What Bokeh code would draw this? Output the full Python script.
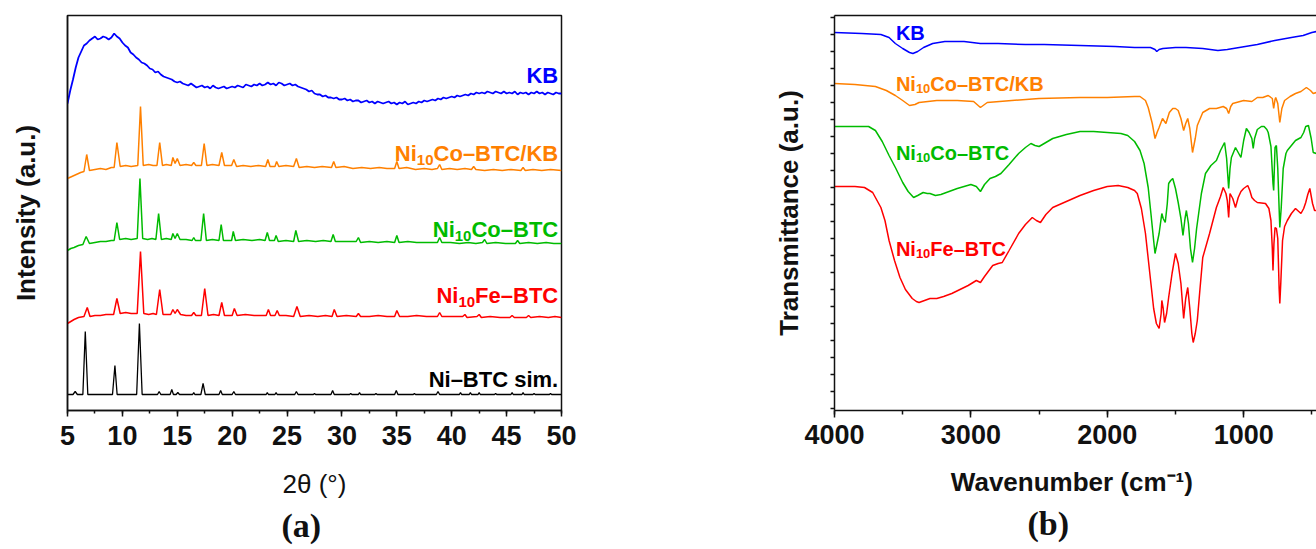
from bokeh.plotting import figure
from bokeh.layouts import row
from bokeh.models import (Range1d, SingleIntervalTicker, FixedTicker, LinearAxis, Title,
                          CustomJSTickFormatter)
from bokeh.core.properties import value
from bokeh.embed import file_html
from bokeh.resources import INLINE

# ---------------- (a) XRD data: 2theta (deg), stacked intensity (a.u.) ----------------
kb_xrd = [(5.0,310),(5.25,323),(5.5,334),(5.75,346),(6.0,356),(6.25,362),(6.5,368),(6.75,370),(7.0,373),(7.25,375),
          (7.5,377),(7.75,374),(8.0,375),(8.25,377),(8.5,376),(8.75,374),(9.0,376),(9.25,380),(9.5,377),(9.75,375),
          (10.0,371),(10.25,368),(10.5,366),(10.75,361),(11.0,359),(11.25,356),(11.5,354),(11.75,351),(12.0,350),(12.25,348),
          (12.5,345),(12.75,344),(13.0,341),(13.25,342),(13.5,339),(13.75,337),(14.0,336),(14.25,335),(14.5,334),(14.75,332),
          (15.0,331),(15.25,332),(15.5,330),(15.75,329),(16.0,328),(16.25,330),(16.5,328),(16.75,326),(17.0,327),(17.25,328),
          (17.5,326),(17.75,327),(18.0,325),(18.25,328),(18.5,326),(18.75,325),(19.0,326),(19.25,327),(19.5,325),(19.75,326),
          (20.0,327),(20.25,326),(20.5,328),(20.75,327),(21.0,326),(21.25,329),(21.5,328),(21.75,327),(22.0,329),(22.25,328),
          (22.5,330),(22.75,328),(23.0,329),(23.25,331),(23.5,329),(23.75,330),(24.0,328),(24.25,331),(24.5,330),(24.75,328),
          (25.0,329),(25.25,330),(25.5,328),(25.75,329),(26.0,327),(26.25,326),(26.5,325),(26.75,324),(27.0,322),(27.25,323),
          (27.5,320),(27.75,319),(28.0,319),(28.25,317),(28.5,318),(28.75,316),(29.0,316),(29.25,315),(29.5,316),(29.75,314),
          (30.0,314),(30.25,315),(30.5,313),(30.75,314),(31.0,312),(31.25,313),(31.5,313),(31.75,311),(32.0,312),(32.25,313),
          (32.5,311),(32.75,312),(33.0,310),(33.25,312),(33.5,311),(33.75,310),(34.0,311),(34.25,312),(34.5,310),(34.75,311),
          (35.0,309),(35.25,311),(35.5,310),(35.75,312),(36.0,309),(36.25,310),(36.5,311),(36.75,310),(37.0,312),(37.25,311),
          (37.5,313),(37.75,312),(38.0,313),(38.25,314),(38.5,313),(38.75,315),(39.0,314),(39.25,316),(39.5,315),(39.75,316),
          (40.0,317),(40.25,316),(40.5,318),(40.75,317),(41.0,318),(41.25,319),(41.5,318),(41.75,320),(42.0,319),(42.25,321),
          (42.5,320),(42.75,321),(43.0,320),(43.25,322),(43.5,321),(43.75,320),(44.0,322),(44.25,321),(44.5,320),(44.75,322),
          (45.0,320),(45.25,321),(45.5,320),(45.75,322),(46.0,319),(46.25,321),(46.5,320),(46.75,321),(47.0,319),(47.25,321),
          (47.5,320),(47.75,322),(48.0,320),(48.25,321),(48.5,319),(48.75,321),(49.0,320),(49.25,319),(49.5,321),(49.75,320),
          (50.0,320)]

ni10co_kb_xrd = [(5.0,235),(5.4,237),(5.8,239),(6.2,241),(6.5,242),(6.75,259),(7.0,243),(7.5,244),(8.0,245),(8.5,244),
          (9.0,246),(9.25,246),(9.5,271),(9.8,247),(10.3,248),(10.8,247),(11.4,248),(11.65,307),(11.9,248),(12.4,249),
          (12.8,248),(13.15,248),(13.4,271),(13.65,248),(14.0,249),(14.45,248),(14.6,256),(14.8,250),(15.0,255),(15.25,248),
          (15.8,249),(16.3,248),(16.5,251),(16.7,248),(17.2,248),(17.45,270),(17.7,248),(18.2,249),(18.8,248),(19.05,261),
          (19.3,248),(19.95,248),(20.15,254),(20.4,247),(21.0,248),(21.7,247),(22.4,248),(23.05,247),(23.25,254),(23.45,247),
          (23.9,247),(24.05,252),(24.25,247),(24.9,248),(25.6,247),(25.85,255),(26.1,246),(26.8,247),(27.5,246),(28.2,247),
          (29.05,246),(29.25,252),(29.45,246),(30.2,247),(31.0,245),(31.8,246),(32.6,245),(33.4,246),(34.1,245),(34.8,245),
          (35.0,252),(35.2,245),(35.9,246),(36.7,244),(37.5,245),(38.2,244),(38.7,245),(38.9,249),(39.1,244),(39.8,245),
          (40.5,244),(41.2,245),(41.8,244),(42.0,247),(42.2,244),(43.0,243),(43.8,244),(44.6,243),(45.4,244),(46.3,243),
          (46.5,246),(46.7,243),(47.4,244),(48.2,243),(49.0,244),(50.0,243)]

ni10co_xrd = [(5.0,163),(5.3,165),(5.6,166),(6.0,168),(6.4,169),(6.7,177),(7.0,170),(7.5,171),(8.0,172),(8.5,172),
          (9.0,173),(9.25,173),(9.5,191),(9.75,174),(10.3,175),(10.8,174),(11.35,175),(11.6,235),(11.85,175),(12.3,174),
          (12.7,175),(13.05,174),(13.3,200),(13.55,174),(14.0,175),(14.45,174),(14.6,180),(14.8,175),(15.0,180),(15.25,174),
          (15.8,174),(16.35,173),(16.5,176),(16.65,173),(17.15,173),(17.4,200),(17.65,173),(18.2,174),(18.8,173),(19.0,189),
          (19.2,173),(19.95,173),(20.1,182),(20.3,173),(21.0,174),(21.8,173),(22.5,174),(23.0,173),(23.2,181),(23.4,173),
          (23.85,173),(24.0,178),(24.2,172),(24.9,173),(25.6,172),(25.8,183),(26.05,172),(26.8,173),(27.6,172),(28.3,173),
          (29.0,172),(29.2,179),(29.4,172),(30.3,172),(31.3,172),(31.5,176),(31.7,171),(32.5,172),(33.3,171),(34.1,172),
          (34.8,171),(35.0,178),(35.2,171),(36.0,172),(36.8,171),(37.6,171),(38.7,171),(38.9,176),(39.1,171),(39.9,171),
          (40.7,170),(41.5,171),(42.2,170),(42.8,171),(43.0,174),(43.2,170),(44.0,171),(44.9,170),(45.8,170),(46.0,173),
          (46.2,170),(47.0,171),(47.8,170),(48.6,171),(49.3,170),(50.0,170)]

ni10fe_xrd = [(5.0,90),(5.3,92),(5.6,94),(6.0,96),(6.5,97),(6.8,106),(7.05,97),(7.5,98),(8.0,98),(8.5,99),
          (9.2,99),(9.5,115),(9.8,100),(10.3,101),(10.8,100),(11.35,100),(11.65,162),(11.95,100),(12.4,99),(12.8,100),
          (13.1,99),(13.4,124),(13.7,99),(14.0,99),(14.4,99),(14.6,104),(14.8,100),(15.0,104),(15.3,99),(15.8,98),
          (16.3,98),(16.5,101),(16.7,98),(17.2,98),(17.5,125),(17.8,98),(18.3,99),(18.8,98),(19.05,111),(19.3,98),
          (20.0,98),(20.2,105),(20.45,98),(21.2,99),(22.0,98),(22.6,98),(23.1,98),(23.3,104),(23.5,98),(23.9,98),
          (24.1,103),(24.3,98),(24.9,98),(25.6,97),(25.9,107),(26.2,97),(27.0,98),(27.8,97),(28.5,98),(29.1,97),
          (29.3,104),(29.55,97),(30.4,98),(31.3,97),(31.5,100),(31.7,97),(32.5,97),(33.3,98),(34.1,97),(34.8,97),
          (35.0,103),(35.25,97),(36.0,97),(36.8,98),(37.7,97),(38.7,97),(38.9,101),(39.1,97),(40.0,97),(41.0,97),
          (41.2,99),(41.4,96),(42.3,97),(42.5,99),(42.7,96),(43.5,97),(44.4,96),(45.3,96),(45.5,98),(45.7,96),
          (46.8,96),(47.0,98),(47.2,96),(48.0,97),(48.8,96),(49.4,97),(50.0,96)]

nibtc_sim_xrd = [(5.0,19),(5.5,19),(5.7,22),(5.9,19),(6.4,19),(6.62,82),(6.85,19),(7.6,19),(8.4,19),(9.1,19),
          (9.32,48),(9.52,19),(10.4,19),(11.3,19),(11.55,90),(11.8,19),(12.5,19),(13.2,19),(13.35,22),(13.5,19),
          (14.35,19),(14.5,24),(14.65,19),(14.9,19),(15.05,21),(15.2,19),(16.4,19),(16.5,21),(16.6,19),(17.15,19),
          (17.35,30),(17.55,19),(18.8,19),(18.95,23),(19.1,19),(20.0,19),(20.15,22),(20.3,19),(23.1,19),(23.2,21),
          (23.3,19),(23.9,19),(24.0,21),(24.1,19),(25.7,19),(25.85,22),(26.0,19),(27.4,19),(27.5,20),(27.6,19),
          (29.0,19),(29.15,23),(29.3,19),(30.7,19),(30.8,20),(30.9,19),(31.5,19),(31.6,21),(31.7,19),(33.0,19),
          (33.1,20),(33.2,19),(34.8,19),(34.95,23),(35.1,19),(36.5,19),(36.6,20),(36.7,19),(38.6,19),(38.75,22),
          (38.9,19),(40.7,19),(40.8,21),(40.9,19),(41.6,19),(41.7,21),(41.8,19),(42.4,19),(42.5,21),(42.6,19),
          (43.9,19),(44.0,20),(44.1,19),(45.4,19),(45.5,21),(45.6,19),(46.4,19),(46.5,21),(46.6,19),(47.4,19),
          (47.5,20),(47.6,19),(48.9,19),(49.0,20),(49.1,19),(50.0,19)]

# ---------------- (b) FTIR data: wavenumber (cm-1), stacked transmittance (a.u.) ----------------
kb_ftir = [(4000,376),(3800,375),(3660,374),(3600,371),(3554,365),(3500,360),(3450,356),(3425,355),(3390,357),(3347,361),
           (3280,365),(3191,367),(3050,367),(2931,365),(2800,365),(2600,364),(2463,364),(2200,363),(1943,362),(1800,361),
           (1683,361),(1650,359),(1637,357),(1620,359),(1592,360),(1500,361),(1423,361),(1300,360),(1189,358),(1120,359),
           (1032,361),(900,364),(772,368),(650,371),(564,373),(500,376),(466,377)]

ni10co_kb_ftir = [(4000,325),(3850,324),(3700,322),(3620,318),(3554,313),(3500,308),(3450,303),(3410,304),(3380,306),(3250,308),
           (3100,308),(2980,307),(2930,301),(2900,304),(2880,306),(2700,308),(2500,310),(2200,311),(2000,311),(1800,312),
           (1760,312),(1720,308),(1700,301),(1670,285),(1650,270),(1635,276),(1620,281),(1595,290),(1580,287),(1570,285),
           (1545,296),(1520,300),(1500,300),(1480,298),(1460,290),(1440,278),(1425,285),(1410,290),(1395,280),(1375,256),
           (1355,270),(1340,283),(1300,296),(1250,300),(1200,300),(1150,302),(1125,300),(1110,295),(1095,302),(1080,305),
           (1000,308),(940,307),(900,311),(860,311),(820,313),(790,310),(780,300),(770,309),(765,311),(750,305),
           (735,286),(720,300),(700,308),(660,312),(620,315),(580,317),(540,321),(510,318),(490,315),(466,316)]

ni10co_ftir = [(4000,282),(3850,282),(3750,282),(3700,278),(3650,267),(3600,253),(3550,240),(3500,226),(3460,217),(3420,211),
           (3390,213),(3350,216),(3320,215),(3300,215),(3260,213),(3220,214),(3160,217),(3100,220),(3050,222),(3000,224),
           (2960,222),(2930,217),(2900,224),(2860,230),(2820,232),(2780,235),(2720,244),(2650,255),(2600,261),(2560,265),
           (2530,263),(2500,262),(2450,266),(2400,270),(2300,274),(2200,277),(2100,277),(2000,276),(1900,275),(1850,273),
           (1800,267),(1760,258),(1730,245),(1700,221),(1680,195),(1660,168),(1650,155),(1635,165),(1620,175),(1600,195),
           (1590,190),(1575,186),(1560,205),(1550,225),(1535,228),(1520,230),(1500,220),(1480,206),(1460,190),(1445,173),
           (1430,190),(1420,198),(1405,185),(1390,160),(1375,146),(1360,160),(1345,180),(1330,195),(1310,215),(1280,235),
           (1240,243),(1200,248),(1170,258),(1140,266),(1125,250),(1110,220),(1100,240),(1090,251),(1060,261),(1040,256),
           (1020,251),(1000,268),(980,280),(960,276),(940,270),(930,260),(920,270),(900,279),(870,282),(850,282),
           (830,279),(820,276),(800,262),(785,225),(780,218),(775,240),(770,261),(760,263),(750,240),(740,200),
           (735,181),(725,200),(710,240),(690,255),(680,258),(650,263),(620,268),(580,271),(560,276),(545,282),(525,283),
           (505,270),(490,256),(466,255)]

ni10fe_ftir = [(4000,222),(3850,222),(3780,221),(3720,216),(3660,201),(3630,188),(3600,168),(3560,148),(3520,131),(3480,119),
           (3430,110),(3400,107),(3380,106),(3340,108),(3300,110),(3250,110),(3200,112),(3140,115),(3080,119),(3020,123),
           (2960,128),(2930,126),(2900,132),(2840,143),(2800,145),(2770,146),(2720,158),(2650,175),(2600,184),(2550,191),
           (2520,188),(2490,186),(2450,194),(2400,201),(2300,207),(2200,213),(2100,218),(2000,222),(1920,223),(1850,221),
           (1800,218),(1780,215),(1750,200),(1720,175),(1700,150),(1680,125),(1660,100),(1640,85),(1620,80),(1605,95),
           (1600,108),(1590,100),(1580,86),(1565,95),(1550,111),(1525,135),(1500,155),(1480,145),(1460,125),(1440,90),
           (1425,110),(1410,121),(1395,100),(1380,75),(1370,66),(1355,75),(1340,88),(1320,120),(1300,151),(1250,175),
           (1200,201),(1170,212),(1150,221),(1130,215),(1120,208),(1110,191),(1100,215),(1080,210),(1060,201),(1040,211),
           (1020,217),(1000,220),(970,223),(955,218),(940,211),(920,208),(900,206),(840,205),(815,200),(800,188),
           (790,160),(785,138),(778,165),(770,181),(760,180),(750,170),(740,120),(735,105),(728,125),(715,168),
           (700,182),(680,188),(650,195),(620,200),(580,195),(560,200),(545,206),(530,214),(515,220),(495,205),
           (480,198),(466,198)]

# series names (label pieces: text, is_subscript)
xrd_names = [[("KB", False)],
             [("Ni", False), ("10", True), ("Co\u2013BTC/KB", False)],
             [("Ni", False), ("10", True), ("Co\u2013BTC", False)],
             [("Ni", False), ("10", True), ("Fe\u2013BTC", False)],
             [("Ni\u2013BTC sim.", False)]]
ftir_names = xrd_names[:4]

BLUE, ORANGE, GREEN, RED, BLACK = "#0000FF", "#FF8000", "#00BB00", "#FF0000", "#000000"
FONT = "Liberation Sans"
SERIF = "Liberation Serif"

# Arial/Liberation Sans Bold advance widths (per 1000 em)
W = {'N': 722, 'i': 278, '1': 556, '0': 556, 'C': 722, 'o': 611, '\u2013': 556, 'B': 722, 'T': 611,
     '/': 278, 'K': 722, 'F': 611, 'e': 556, ' ': 278, 's': 556, 'm': 889, '.': 278}


def text_w(s, size):
    return sum(W.get(c, 556) for c in s) / 1000.0 * size


def draw_label(p, x, y, pieces, color, size, drop, align):
    sub = round(size * 0.66)
    widths = [text_w(t, sub if s else size) for t, s in pieces]
    off = -sum(widths) if align == "right" else 0.0
    for (t, s), w in zip(pieces, widths):
        p.text(x=[x], y=[y - drop if s else y], text=[t], x_offset=off,
               text_font=value(FONT), text_font_style="bold",
               text_font_size=f"{sub if s else size}px", text_color=color,
               text_align="left", text_baseline="alphabetic")
        off += w


def unzip(pairs):
    return [a for a, b in pairs], [b for a, b in pairs]


def style_axis(ax):
    ax.axis_line_width = 1.5
    ax.axis_line_color = "#111111"
    ax.major_tick_line_width = 1.5
    ax.minor_tick_line_width = 1.5
    ax.major_tick_line_color = "#111111"
    ax.minor_tick_line_color = "#111111"
    ax.major_tick_in = 0
    ax.minor_tick_in = 0
    ax.major_label_text_font = FONT
    ax.major_label_text_font_style = "bold"
    ax.major_label_text_color = "#111111"
    ax.axis_label_text_font = FONT
    ax.axis_label_text_color = "#111111"


def style_fig(p):
    p.xgrid.visible = False
    p.ygrid.visible = False
    p.background_fill_color = "white"
    p.border_fill_color = "white"


H = 549
TOP = 15
FRAME_H = 395

# ---------------- panel (a) ----------------
p1 = figure(width=700, height=H, x_range=Range1d(5, 50), y_range=Range1d(3, 398),
            output_backend="svg", toolbar_location=None,
            min_border_left=67, min_border_right=139, min_border_top=TOP,
            min_border_bottom=H - TOP - FRAME_H)
style_fig(p1)
p1.outline_line_color = "#111111"
p1.outline_line_width = 1.5
xa1 = p1.below[0]
ya1 = p1.left[0]
style_axis(xa1)
style_axis(ya1)
xa1.ticker = SingleIntervalTicker(interval=5, num_minor_ticks=2)
xa1.major_tick_out = 6
xa1.minor_tick_out = 3
xa1.major_label_text_font_size = "27px"
xa1.major_label_standoff = 9
xa1.axis_label = "2\u03b8 (\u00b0)"
xa1.axis_label_text_font_size = "26px"
xa1.axis_label_text_font_style = "normal"
xa1.axis_label_standoff = 21
ya1.ticker = FixedTicker(ticks=[])
ya1.minor_tick_line_color = None
ya1.axis_label = "Intensity (a.u.)"
ya1.axis_label_text_font_size = "26px"
ya1.axis_label_text_font_style = "bold"
ya1.axis_label_standoff = 27

xrd_series = [kb_xrd, ni10co_kb_xrd, ni10co_xrd, ni10fe_xrd, nibtc_sim_xrd]
colors = [BLUE, ORANGE, GREEN, RED, BLACK]
lws = [1.8, 1.5, 1.5, 1.5, 1.3]
for s, c, lw in zip(xrd_series, colors, lws):
    xs, ys = unzip(s)
    p1.line(xs, ys, line_color=c, line_width=lw)

xrd_label_pos = [(49.7, 338), (49.7, 260), (49.7, 184), (49.7, 118), (49.7, 34)]
for (lx, ly), pieces, c in zip(xrd_label_pos, xrd_names, colors):
    draw_label(p1, lx, ly, pieces, c, 22, 6, "right")

p1.add_layout(Title(text="(a)", align="left", offset=214, standoff=6,
                    text_font=SERIF, text_font_style="bold", text_font_size="34px",
                    text_color="#111111"), "below")

# ---------------- panel (b) ----------------
p2 = figure(width=616, height=H, x_range=Range1d(4000, 466), y_range=Range1d(-2, 393),
            output_backend="svg", toolbar_location=None,
            min_border_left=134, min_border_right=0, min_border_top=TOP,
            min_border_bottom=H - TOP - FRAME_H)
style_fig(p2)
p2.outline_line_color = None
xa2 = p2.below[0]
ya2 = p2.left[0]
top_axis = LinearAxis(ticker=FixedTicker(ticks=[]))
p2.add_layout(top_axis, "above")
for ax in (xa2, ya2, top_axis):
    style_axis(ax)
xa2.ticker = SingleIntervalTicker(interval=1000, num_minor_ticks=2)
xa2.major_tick_out = 7
xa2.minor_tick_out = 4
xa2.major_label_text_font_size = "27px"
xa2.major_label_standoff = 7
xa2.axis_label = "Wavenumber  (cm\u207b\u00b9)"
xa2.axis_label_text_font_size = "26px"
xa2.axis_label_text_font_style = "bold"
xa2.axis_label_standoff = 20
ya2.ticker = SingleIntervalTicker(interval=17, num_minor_ticks=0)
ya2.major_tick_out = 4
ya2.formatter = CustomJSTickFormatter(code="return ''")
ya2.major_label_standoff = 0
ya2.axis_label = "Transmittance (a.u.)"
ya2.axis_label_text_font_size = "26px"
ya2.axis_label_text_font_style = "bold"
ya2.axis_label_standoff = 27

ftir_series = [kb_ftir, ni10co_kb_ftir, ni10co_ftir, ni10fe_ftir]
for s, c in zip(ftir_series, colors[:4]):
    xs, ys = unzip(s)
    p2.line(xs, ys, line_color=c, line_width=1.5)

ftir_label_pos = [(3550, 376), (3550, 325), (3550, 256), (3550, 160)]
for (lx, ly), pieces, c in zip(ftir_label_pos, ftir_names, colors[:4]):
    draw_label(p2, lx, ly, pieces, c, 20, 5, "left")

p2.add_layout(Title(text="(b)", align="left", offset=193, standoff=6,
                    text_font=SERIF, text_font_style="bold", text_font_size="34px",
                    text_color="#111111"), "below")

layout = row(p1, p2)
open("out.html", "w").write(file_html(layout, INLINE))
